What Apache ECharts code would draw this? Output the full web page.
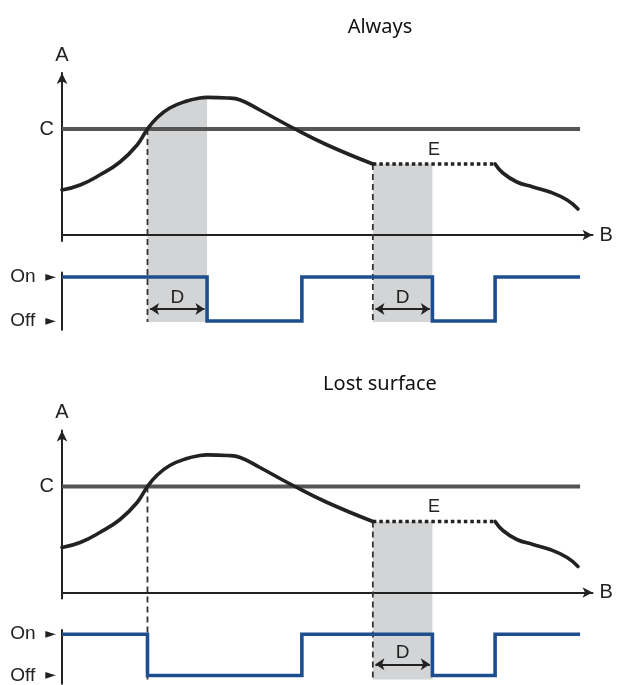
<!DOCTYPE html>
<html>
<head>
<meta charset="utf-8">
<script src="https://cdn.jsdelivr.net/npm/echarts@6/dist/echarts.min.js"></script>
<style>
html, body { margin: 0; padding: 0; background: #fff; }
#chart { width: 617px; height: 685px; }
</style>
</head>
<body>
<div id="chart"></div>
<script>
// measured value A over time B (same curve in both panels)
var riseT = [0, 3.5, 7.3, 11.2, 14.5, 16.5, 18.3, 20.8, 24.1, 26.6, 28, 31.9, 34.4, 38.2, 44.6, 51.2, 60];
var riseV = [22.5, 25, 30, 36.5, 45, 53, 58.5, 63.5, 67, 68.5, 68.8, 68.5, 67.5, 62.5, 53.5, 45, 35.5];
var tailT = [83.6, 85.1, 87.8, 90.9, 94.2, 97.5, 99.6];
var tailV = [35.5, 31, 26.5, 24, 21.5, 17.5, 13];
var levelC = 53;      // threshold C
var levelE = 35.5;    // value held while surface is lost (E)
var lostT = [60, 83.6];
var markT = [16.5, 60]; // dashed markers

// relay output steps [time, state], 1 = On, 0 = Off
var relayAlways = [[0, 1], [28, 0], [46.3, 1], [71.5, 0], [83.6, 1], [100, 1]];
var relayLost = [[0, 1], [16.5, 0], [46.3, 1], [71.5, 0], [83.6, 1], [100, 1]];
// delay windows D
var delayAlways = [[16.5, 28], [60, 71.5]];
var delayLost = [[60, 71.5]];

var panelTitles = ['Always', 'Lost surface'];
var panelRelay = [relayAlways, relayLost];
var panelDelay = [delayAlways, delayLost];

var floorV = -43.5;   // bottom of grey windows / dashed markers (relay Off level)
var blue = '#1d4f8f';
var ink = '#222';
var labelFont = 'Liberation Sans';

// whole curve as points (rise, plateau, tail)
var curvePts = [];
riseT.forEach(function (t, i) { curvePts.push([t, riseV[i]]); });
tailT.forEach(function (t, i) { curvePts.push([t, tailV[i]]); });
curvePts.sort(function (a, b) { return a[0] - b[0]; });

function curveAt(t) {
    for (var i = 1; i < curvePts.length; i++) {
        var a = curvePts[i - 1], b = curvePts[i];
        if (t >= a[0] && t <= b[0]) {
            return a[1] + (b[1] - a[1]) * (t - a[0]) / (b[0] - a[0]);
        }
    }
    return curvePts[curvePts.length - 1][1];
}

var grids = [], xAxes = [], yAxes = [], series = [], graphics = [];

function buildPanel(p, off) {
    var ga = p * 2, gb = p * 2 + 1;
    // analog grid
    grids.push({ left: 62, right: 24.5, top: 73 + off, height: 168 });
    // relay grid
    grids.push({ left: 62, right: 24.5, top: 272.6 + off, height: 57.2 });

    xAxes.push({
        type: 'value', gridIndex: ga, min: 0, max: 102.4, z: 3,
        name: 'B', nameLocation: 'end', nameGap: 7,
        nameTextStyle: { fontSize: 20, color: ink, fontFamily: labelFont },
        axisLine: { show: true, onZero: true, symbol: ['none', 'arrow'], symbolSize: [8, 10], lineStyle: { color: ink, width: 2 } },
        axisTick: { show: false }, axisLabel: { show: false }, splitLine: { show: false }
    });
    xAxes.push({
        type: 'value', gridIndex: gb, min: 0, max: 102.4, show: false
    });
    yAxes.push({
        type: 'value', gridIndex: ga, min: -3, max: 81, z: 3,
        name: 'A', nameLocation: 'end', nameGap: 8,
        nameTextStyle: { fontSize: 20, color: ink, fontFamily: labelFont, align: 'center' },
        axisLine: { show: true, symbol: ['none', 'arrow'], symbolSize: [8, 11], lineStyle: { color: ink, width: 2 } },
        axisTick: { show: false },
        axisLabel: {
            show: true, customValues: [levelC], margin: 8,
            fontSize: 20, color: ink, fontFamily: labelFont,
            formatter: function (v) { return Math.abs(v - levelC) < 0.01 ? 'C' : ''; }
        },
        splitLine: { show: false }
    });
    yAxes.push({
        type: 'value', gridIndex: gb, min: -0.2, max: 1.1, z: 3,
        axisLine: { show: true, lineStyle: { color: ink, width: 2 } },
        axisTick: { show: false },
        axisLabel: {
            show: true, customValues: [0, 1], margin: 6,
            formatter: function (v) { return v > 0.5 ? '{a|On}{t|►}' : '{a|Off}{t|►}'; },
            rich: {
                a: { fontSize: 19, color: ink, fontFamily: labelFont, width: 35, align: 'left' },
                t: { fontSize: 14, color: ink, fontFamily: 'DejaVu Sans' }
            }
        },
        splitLine: { show: false }
    });

    // grey delay windows, from curve down to Off level
    series.push({
        type: 'custom', xAxisIndex: ga, yAxisIndex: ga, z: 1, clip: false, silent: true,
        data: panelDelay[p],
        renderItem: function (params, api) {
            var s = api.value(0), e = api.value(1);
            var pts = [api.coord([s, curveAt(s)])];
            curvePts.forEach(function (c) {
                if (c[0] > s && c[0] < e && c[0] <= lostT[0]) pts.push(api.coord(c));
            });
            var topE = (e > lostT[0] && e < lostT[1]) ? levelE : curveAt(e);
            if (s >= lostT[0]) pts = [api.coord([s, levelE])];
            pts.push(api.coord([e, topE]));
            pts.push(api.coord([e, floorV]));
            pts.push(api.coord([s, floorV]));
            return { type: 'polygon', shape: { points: pts }, style: { fill: '#d3d4d6' } };
        }
    });

    // dashed markers
    markT.forEach(function (t) {
        var top = t >= lostT[0] ? levelE : levelC;
        series.push({
            type: 'line', xAxisIndex: ga, yAxisIndex: ga, z: 4, clip: false, symbol: 'none', silent: true,
            data: [[t, top], [t, floorV]],
            lineStyle: { color: '#333', width: 1.8, type: [6, 4] }
        });
    });

    // threshold C
    series.push({
        type: 'line', xAxisIndex: ga, yAxisIndex: ga, z: 5, symbol: 'none', silent: true,
        data: [[0, levelC], [100, levelC]],
        lineStyle: { color: '#555', width: 4 }
    });

    // curve
    series.push({
        type: 'line', xAxisIndex: ga, yAxisIndex: ga, z: 6, symbol: 'none', smooth: 0.45, silent: true,
        data: riseT.map(function (t, i) { return [t, riseV[i]]; }),
        lineStyle: { color: ink, width: 3.6, cap: 'round' }
    });
    series.push({
        type: 'line', xAxisIndex: ga, yAxisIndex: ga, z: 6, symbol: 'none', silent: true,
        data: [[lostT[0], levelE], [lostT[1], levelE]],
        lineStyle: { color: ink, width: 3.6, type: [3.5, 3] },
        markPoint: {
            symbol: 'circle', symbolSize: 0, itemStyle: { color: 'rgba(0,0,0,0)' },
            label: { show: true, position: 'top', distance: 5, formatter: 'E', fontSize: 18, color: ink, fontFamily: labelFont },
            data: [{ coord: [(lostT[0] + lostT[1]) / 2, levelE] }]
        }
    });
    series.push({
        type: 'line', xAxisIndex: ga, yAxisIndex: ga, z: 6, symbol: 'none', smooth: 0.45, silent: true,
        data: tailT.map(function (t, i) { return [t, tailV[i]]; }),
        lineStyle: { color: ink, width: 3.6, cap: 'round' }
    });

    // relay output
    series.push({
        type: 'line', xAxisIndex: gb, yAxisIndex: gb, z: 7, symbol: 'none', step: 'end', silent: true,
        data: panelRelay[p],
        lineStyle: { color: blue, width: 3.6, join: 'miter' },
        markLine: {
            silent: true, symbol: ['arrow', 'arrow'], symbolSize: 9,
            lineStyle: { color: ink, width: 1.8, type: 'solid' },
            label: { show: true, position: 'insideMiddleTop', distance: 2, formatter: 'D', fontSize: 19, color: ink, fontFamily: labelFont },
            data: panelDelay[p].map(function (d) {
                return [{ coord: [d[0] + 0.5, 0.27] }, { coord: [d[1] - 0.5, 0.27] }];
            })
        }
    });

    graphics.push({
        type: 'text', x: 380, y: 27 + off,
        style: { text: panelTitles[p], fontSize: 20, fontFamily: 'Noto Sans', fill: '#111', align: 'center', verticalAlign: 'middle' }
    });
}

buildPanel(0, 0);
buildPanel(1, 357.5);

var chart = echarts.init(document.getElementById('chart'));
chart.setOption({
    animation: false,
    backgroundColor: '#fff',
    grid: grids,
    xAxis: xAxes,
    yAxis: yAxes,
    graphic: graphics,
    series: series
});
</script>
</body>
</html>
